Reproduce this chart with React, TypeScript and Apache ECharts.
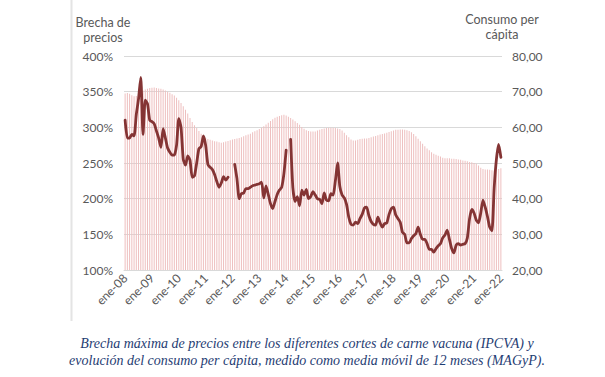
import React, { useEffect, useRef } from "react";
import * as echarts from "echarts";

const MONTHS = ["ene", "feb", "mar", "abr", "may", "jun", "jul", "ago", "sep", "oct", "nov", "dic"];
const YEARS = ["08", "09", "10", "11", "12", "13", "14", "15", "16", "17", "18", "19", "20", "21", "22"];

// Consumo per cápita (kg/hab/año, media móvil 12 meses), ene-08 .. ene-22
const consumo: number[] = [
  69.5, 69.6, 69.4, 69.0, 68.7, 68.8, 69.3, 69.9, 70.3, 70.6, 70.8, 71.0,
  71.1, 71.2, 71.0, 70.9, 70.8, 70.6, 70.3, 70.0, 69.7, 69.3, 68.9, 68.3,
  67.6, 66.8, 65.9, 64.9, 63.9, 62.6, 61.5, 60.6, 59.8, 59.0, 58.2, 57.5,
  57.0, 56.7, 56.5, 56.3, 56.1, 56.0, 55.8, 55.7, 55.8, 56.0, 56.2, 56.4,
  56.6, 56.7, 56.9, 57.0, 57.2, 57.5, 57.8, 58.0, 58.2, 58.6, 58.9, 59.2,
  59.5, 59.9, 60.3, 60.8, 61.3, 61.8, 62.3, 62.7, 63.0, 63.2, 63.4, 63.5,
  63.3, 63.0, 62.6, 62.2, 61.7, 61.2, 60.7, 60.1, 59.6, 59.2, 59.0, 58.8,
  58.8, 58.8, 59.1, 59.3, 59.5, 59.7, 59.8, 59.9, 59.9, 59.9, 59.8, 59.7,
  59.5, 59.1, 58.5, 57.8, 57.2, 56.6, 56.3, 56.3, 56.5, 56.7, 56.8, 56.9,
  56.9, 57.0, 57.2, 57.4, 57.6, 57.8, 58.0, 58.1, 58.3, 58.5, 58.7, 58.9,
  59.1, 59.3, 59.3, 59.4, 59.4, 59.3, 59.2, 59.0, 58.6, 58.1, 57.5, 56.8,
  56.1, 55.4, 54.7, 54.1, 53.6, 53.0, 52.6, 52.3, 52.0, 51.8, 51.5, 51.3,
  51.3, 51.3, 51.2, 51.2, 51.1, 51.0, 50.9, 50.7, 50.6, 50.5, 50.3, 50.2,
  50.0, 49.8, 49.3, 48.7, 48.3, 48.2, 48.2, 48.1, 48.0, 48.0, 48.1, 48.3,
  48.5,
];

// Brecha máxima de precios (%), ene-08 .. ene-22
const brecha: (number | null)[] = [
  310, 285, 285, 290, 288, 318, 340, 370, 290, 338, 333, 310,
  308, 305, 295, 285, 272, 298, 285, 271, 265, 261, 261, 275,
  312, 300, 255, 247, 260, 254, 230, 232, 250, 270, 273, 288,
  275, 248, 244, 241, 234, 224, 216, 222, 231, 226, 230, null,
  null, 248, 228, 200, 207, 208, 214, 214, 216, 218, 219, 220,
  221, 223, 201, 218, 206, 193, 186, 196, 206, 212, 216, 235,
  268, null, 283, 215, 196, 203, 190, 212, 205, 213, 200, 203,
  210, 205, 200, 199, 193, 208, 198, 197, 207, 205, 225, 250,
  217, 205, 201, 192, 174, 164, 163, 167, 165, 172, 178, 187,
  188, 176, 168, 164, 163, 174, 166, 160, 165, 166, 178, 186,
  188, 177, 172, 167, 153, 150, 138, 138, 144, 148, 151, 160,
  150, 143, 143, 137, 129, 129, 125, 130, 134, 137, 145, 149,
  156, 143, 130, 124, 135, 137, 135, 136, 137, 145, 172, 185,
  180, 170, 166, 180, 198, 188, 175, 160, 155, 215, 255, 276,
  258,
];

const categories: string[] = [];
YEARS.forEach((y) => MONTHS.forEach((m) => categories.push(`${m}-${y}`)));
const cats = categories.slice(0, consumo.length);

const LEFT_TICKS = { min: 100, max: 400, interval: 50 };
const RIGHT_TICKS = { min: 20, max: 80, interval: 10 };

const LEFT_TITLE = "Brecha de\nprecios";
const RIGHT_TITLE = "Consumo per\ncápita";
const CAPTION =
  "Brecha máxima de precios entre los diferentes cortes de carne vacuna (IPCVA) y\nevolución del consumo per cápita, medido como media móvil de 12 meses (MAGyP).";

export default function App() {
  const ref = useRef<HTMLDivElement>(null);
  useEffect(() => {
    if (!ref.current) return;
    const chart = echarts.init(ref.current, undefined, { renderer: "svg" });
    const font = "Lato";
    const grey = "#595959";
    chart.setOption({
      animation: false,
      backgroundColor: "#ffffff",
      grid: { left: 124, right: 103, top: 56, bottom: 107, containLabel: false },
      xAxis: {
        type: "category",
        data: cats,
        boundaryGap: true,
        axisLine: { show: true, lineStyle: { color: "#d9d9d9", width: 1 } },
        axisTick: { show: false },
        axisLabel: {
          interval: 11,
          rotate: 45,
          color: grey,
          fontFamily: font,
          fontSize: 12,
          margin: 6,
        },
        splitLine: { show: false },
      },
      yAxis: [
        {
          type: "value",
          min: LEFT_TICKS.min,
          max: LEFT_TICKS.max,
          interval: LEFT_TICKS.interval,
          axisLine: { show: false },
          axisTick: { show: false },
          axisLabel: {
            formatter: "{value}%",
            color: grey,
            fontFamily: font,
            fontSize: 12,
            margin: 11,
          },
          splitLine: { show: true, lineStyle: { color: "#d9d9d9", width: 1 } },
        },
        {
          type: "value",
          min: RIGHT_TICKS.min,
          max: RIGHT_TICKS.max,
          interval: RIGHT_TICKS.interval,
          axisLine: { show: false },
          axisTick: { show: false },
          axisLabel: {
            formatter: (v: number) => v.toFixed(2).replace(".", ","),
            color: grey,
            fontFamily: font,
            fontSize: 12,
            margin: 10,
          },
          splitLine: { show: false },
        },
      ],
      series: [
        {
          type: "bar",
          yAxisIndex: 1,
          data: consumo,
          barWidth: 1,
          itemStyle: { color: "#eebfbf" },
          z: 1,
        },
        {
          type: "line",
          yAxisIndex: 0,
          data: brecha,
          connectNulls: false,
          showSymbol: false,
          symbol: "none",
          smooth: 0.2,
          lineStyle: { color: "#843434", width: 2.8, cap: "round", join: "round" },
          z: 3,
        },
      ],
      graphic: [
        {
          type: "line",
          shape: { x1: 71.5, y1: 0, x2: 71.5, y2: 321 },
          style: { stroke: "#e4e4e4", lineWidth: 2 },
        },
        {
          type: "text",
          x: 103,
          y: 15,
          style: {
            text: LEFT_TITLE,
            textAlign: "center",
            font: `12.5px ${font}`,
            lineHeight: 15,
            fill: grey,
          },
        },
        {
          type: "text",
          x: 502,
          y: 12,
          style: {
            text: RIGHT_TITLE,
            textAlign: "center",
            font: `12.5px ${font}`,
            lineHeight: 15,
            fill: grey,
          },
        },
        {
          type: "text",
          x: 307,
          y: 335,
          style: {
            text: CAPTION,
            textAlign: "center",
            font: 'italic 14px "Liberation Serif"',
            lineHeight: 17,
            fill: "#1f3d73",
          },
        },
      ],
    });
    return () => chart.dispose();
  }, []);
  return (
    <div
      ref={ref}
      style={{ position: "fixed", left: 0, top: 0, width: 605, height: 377 }}
    />
  );
}
